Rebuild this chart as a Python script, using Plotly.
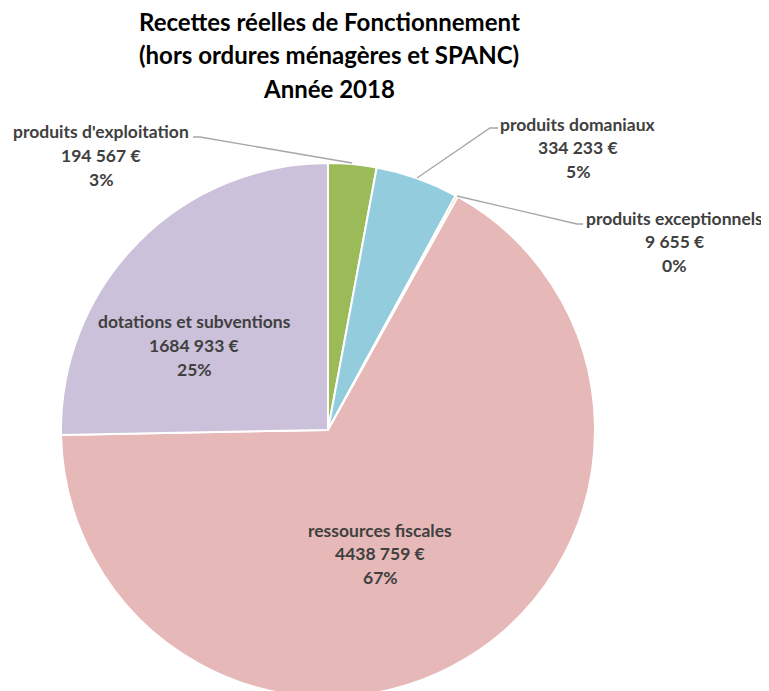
import plotly.graph_objects as go

# ---- data ----
categories = ["produits d'exploitation", "produits domaniaux", "produits exceptionnels",
              "ressources fiscales", "dotations et subventions"]
values = [194567, 334233, 9655, 4438759, 1684933]
value_labels = ["194 567 €", "334 233 €", "9 655 €", "4438 759 €", "1684 933 €"]
colors = ["#9BBB59", "#93CDDD", "#F79646", "#E6B9B8", "#CCC1DA"]
title_lines = ["Recettes réelles de Fonctionnement",
               "(hors ordures ménagères et SPANC)",
               "Année 2018"]

W, H = 769, 691
OFF = 8  # page body margin offset
total = sum(values)
pcts = [f"{round(v / total * 100)}%" for v in values]


def px(x):
    return (x - OFF) / W


def py(y):
    return 1 - (y - OFF) / H


fig = go.Figure(go.Pie(
    labels=categories, values=values, sort=False, direction="clockwise",
    rotation=0, textinfo="none", hoverinfo="label+value+percent",
    marker=dict(colors=colors, line=dict(color="white", width=2)),
    domain=dict(x=[px(61), px(595)], y=[py(697), py(163)]),
    showlegend=False,
))

annotations = []
# title
for line, y in zip(title_lines, [22, 55, 88]):
    annotations.append(dict(text=f"<b>{line}</b>", x=px(329), y=py(y), xref="paper", yref="paper",
                            showarrow=False, xanchor="center", yanchor="middle",
                            font=dict(family="Lato", size=24, color="#000000")))

# data label placement (layout only): center x, first line y
label_pos = [(101, 132), (578, 124), (674, 218), (380, 530), (194, 322)]
for cat, vl, pc, (lx, ly) in zip(categories, value_labels, pcts, label_pos):
    for k, t in enumerate([cat, vl, pc]):
        annotations.append(dict(text=f"<b>{t}</b>", x=px(lx), y=py(ly + 23.5 * k),
                                xref="paper", yref="paper", showarrow=False,
                                xanchor="center", yanchor="middle",
                                font=dict(family="Lato", size=17.5, color="#404040")))

leaders = [
    [(193, 137), (200, 137), (352, 163)],
    [(498, 128), (490, 128), (417, 178)],
    [(457, 196), (577, 224), (583, 224)],
]
shapes = []
for pts in leaders:
    path = "M " + " L ".join(f"{px(x)} {py(y)}" for x, y in pts)
    shapes.append(dict(type="path", path=path, xref="paper", yref="paper",
                       line=dict(color="#A6A6A6", width=1.3)))

fig.update_layout(
    width=W, height=H, margin=dict(l=0, r=0, t=0, b=0),
    paper_bgcolor="white", plot_bgcolor="white",
    annotations=annotations, shapes=shapes,
)

fig.write_html("out.html")
